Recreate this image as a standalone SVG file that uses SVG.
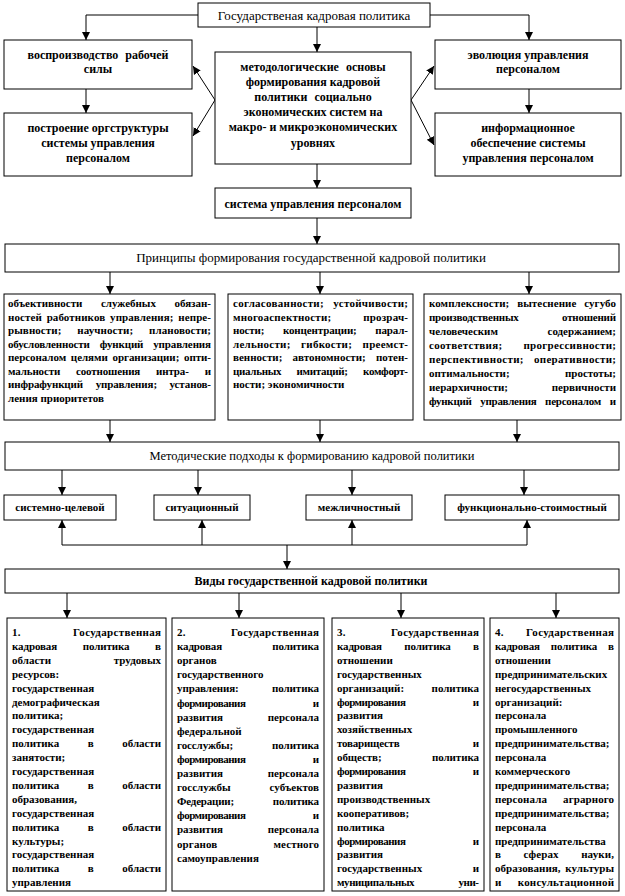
<svg xmlns="http://www.w3.org/2000/svg" width="625" height="896" viewBox="0 0 625 896">
<style>
rect{fill:#fff;stroke:#000;stroke-width:1}
text{font-family:"Liberation Serif","Times New Roman",serif;font-weight:bold;font-size:11px;fill:#000}
.c{text-anchor:middle;font-size:12px}
.s{text-anchor:middle;font-size:11px}
.r{text-anchor:middle;font-weight:normal;font-size:13px}
#conn path{fill:none;stroke:#000;stroke-width:1;marker-end:url(#a)}
#conn path.n{marker-end:none}
</style>
<defs>
<marker id="a" viewBox="0 0 8 10" refX="8" refY="5" markerWidth="8" markerHeight="10" markerUnits="userSpaceOnUse" orient="auto">
<path d="M0,1 L8,5 L0,9 Z" fill="#000"/>
</marker>
</defs>
<rect x="0" y="0" width="625" height="896" style="stroke:none"/>

<g id="conn">
<path d="M198,15 H86 V40"/>
<path d="M430,15 H529 V40"/>
<path d="M317,27 V52"/>
<path d="M86,89 V113"/>
<path d="M529,89 V113"/>
<path d="M215,100 L193,66"/>
<path d="M215,100 L193,136"/>
<path d="M411,100 L434,66"/>
<path d="M411,100 L434,145"/>
<path d="M317,164 V188"/>
<path d="M317,218 V244"/>
<path d="M110,272 V294"/>
<path d="M320,272 V294"/>
<path d="M529,272 V294"/>
<path d="M110,420 V442"/>
<path d="M320,420 V442"/>
<path d="M517,420 V442"/>
<path d="M62,470 V495"/>
<path d="M198,470 V495"/>
<path d="M352,470 V495"/>
<path d="M524,470 V495"/>
<path class="n" d="M62,545 H527"/>
<path d="M62,545 V520"/>
<path d="M202,545 V520"/>
<path d="M352,545 V520"/>
<path d="M527,545 V520"/>
<path d="M287,545 V569"/>
<path d="M67,593 V618"/>
<path d="M239,593 V618"/>
<path d="M401,593 V618"/>
<path d="M556,593 V618"/>
</g>

<g id="title"><rect x="198" y="3" width="232" height="24"/><text class="r" x="314" y="20">Государственая кадровая политика</text></g>

<g id="left1"><rect x="4" y="40" width="188" height="49"/>
<text class="c" x="98" y="59" style="word-spacing:4px">воспроизводство рабочей</text>
<text class="c" x="98" y="73">силы</text></g>

<g id="left2"><rect x="4" y="113" width="188" height="63"/>
<text class="c" x="98" y="132">построение оргструктуры</text>
<text class="c" x="98" y="147">системы управления</text>
<text class="c" x="98" y="162">персоналом</text></g>

<g id="center"><rect x="215" y="52" width="196" height="112"/>
<text class="c" x="313" y="71" style="word-spacing:4px">методологические основы</text>
<text class="c" x="313" y="86">формирования кадровой</text>
<text class="c" x="313" y="101" style="word-spacing:4px">политики социально</text>
<text class="c" x="313" y="116">экономических систем на</text>
<text class="c" x="313" y="131">макро- и микроэкономических</text>
<text class="c" x="313" y="147">уровнях</text></g>

<g id="right1"><rect x="435" y="40" width="186" height="49"/>
<text class="c" x="528" y="59">эволюция управления</text>
<text class="c" x="528" y="73">персоналом</text></g>

<g id="right2"><rect x="435" y="113" width="186" height="63"/>
<text class="c" x="528" y="132">информационное</text>
<text class="c" x="528" y="147">обеспечение системы</text>
<text class="c" x="528" y="162">управления персоналом</text></g>

<g id="system"><rect x="215" y="188" width="196" height="30"/>
<text class="c" x="313" y="208">система управления персоналом</text></g>

<g id="principles"><rect x="5" y="244" width="614" height="28"/>
<text class="r" x="311" y="262">Принципы формирования государственной кадровой политики</text></g>

<g id="prA"><rect x="4" y="294" width="211" height="126"/>
<text x="8" y="307" textLength="203" style="word-spacing:15.8px">объективности служебных обязан-</text>
<text x="8" y="320.5" textLength="203" style="word-spacing:2px">ностей работников управления; непре-</text>
<text x="8" y="334" textLength="203" style="word-spacing:13px">рывности; научности; плановости;</text>
<text x="8" y="347.5" textLength="203" style="word-spacing:7.3px">обусловленности функций управления</text>
<text x="8" y="361" textLength="203" style="word-spacing:2px">персоналом целями организации; опти-</text>
<text x="8" y="374.5" textLength="203" style="word-spacing:13.4px">мальности соотношения интра- и</text>
<text x="8" y="388" textLength="203" style="word-spacing:10px">инфрафункций управления; установ-</text>
<text x="8" y="401.5">ления приоритетов</text></g>

<g id="prB"><rect x="228" y="294" width="185" height="126"/>
<text x="233" y="307" textLength="175" style="word-spacing:6.4px">согласованности; устойчивости;</text>
<text x="233" y="320.5" textLength="175" style="word-spacing:29px">многоаспектности; прозрач-</text>
<text x="233" y="334" textLength="175" style="word-spacing:16px">ности; концентрации; парал-</text>
<text x="233" y="347.5" textLength="175" style="word-spacing:7.5px">лельности; гибкости; преемст-</text>
<text x="233" y="361" textLength="175" style="word-spacing:7.5px">венности; автономности; потен-</text>
<text x="233" y="374.5" textLength="175" style="word-spacing:13px">циальных имитаций; комфорт-</text>
<text x="233" y="388">ности; экономичности</text></g>

<g id="prC"><rect x="424" y="294" width="197" height="126"/>
<text x="429" y="307" textLength="187" style="word-spacing:5px">комплексности; вытеснение сугубо</text>
<text x="429" y="321" textLength="187" style="word-spacing:41px">производственных отношений</text>
<text x="429" y="335" textLength="187" style="word-spacing:47px">человеческим содержанием;</text>
<text x="429" y="349" textLength="187" style="word-spacing:18px">соответствия; прогрессивности;</text>
<text x="429" y="363" textLength="187" style="word-spacing:7px">перспективности; оперативности;</text>
<text x="429" y="377" textLength="187" style="word-spacing:52.7px">оптимальности; простоты;</text>
<text x="429" y="391" textLength="187" style="word-spacing:41px">иерархичности; первичности</text>
<text x="429" y="405" textLength="187" style="word-spacing:6.2px">функций управления персоналом и</text></g>

<g id="methods"><rect x="5" y="442" width="614" height="28"/>
<text class="r" x="312" y="460" style="font-size:12.5px">Методические подходы к формированию кадровой политики</text></g>

<g id="ap1"><rect x="4" y="495" width="112" height="25"/><text class="s" x="60" y="511">системно-целевой</text></g>
<g id="ap2"><rect x="154" y="495" width="96" height="25"/><text class="s" x="202" y="511">ситуационный</text></g>
<g id="ap3"><rect x="306" y="495" width="106" height="25"/><text class="s" x="359" y="511">межличностный</text></g>
<g id="ap4"><rect x="445" y="495" width="174" height="25"/><text class="s" x="532" y="511">функционально-стоимостный</text></g>

<g id="types"><rect x="5" y="569" width="614" height="24"/>
<text class="c" x="311" y="585">Виды государственной кадровой политики</text></g>

<g id="t1"><rect x="7" y="618" width="159" height="273"/>
<text x="12" y="636" textLength="149" style="word-spacing:49px">1. Государственная</text>
<text x="12" y="649.9" textLength="149" style="word-spacing:23px">кадровая политика в</text>
<text x="12" y="663.8" textLength="149" style="word-spacing:60px">области трудовых</text>
<text x="12" y="677.7">ресурсов:</text>
<text x="12" y="691.6">государственная</text>
<text x="12" y="705.5">демографическая</text>
<text x="12" y="719.4">политика;</text>
<text x="12" y="733.3">государственная</text>
<text x="12" y="747.2" textLength="149" style="word-spacing:26px">политика в области</text>
<text x="12" y="761.1">занятости;</text>
<text x="12" y="775">государственная</text>
<text x="12" y="788.9" textLength="149" style="word-spacing:26px">политика в области</text>
<text x="12" y="802.8">образования,</text>
<text x="12" y="816.7">государственная</text>
<text x="12" y="830.6" textLength="149" style="word-spacing:26px">политика в области</text>
<text x="12" y="844.5">культуры;</text>
<text x="12" y="858.4">государственная</text>
<text x="12" y="872.3" textLength="149" style="word-spacing:26px">политика в области</text>
<text x="12" y="886.2">управления</text></g>

<g id="t2"><rect x="172" y="618" width="152" height="273"/>
<text x="177" y="636" textLength="142" style="word-spacing:42px">2. Государственная</text>
<text x="177" y="650.1" textLength="142" style="word-spacing:47.7px">кадровая политика</text>
<text x="177" y="664.2">органов</text>
<text x="177" y="678.3">государственного</text>
<text x="177" y="692.4" textLength="142" style="word-spacing:30.6px">управления: политика</text>
<text x="177" y="706.5" textLength="142" style="word-spacing:65px">формирования и</text>
<text x="177" y="720.6" textLength="142" style="word-spacing:42px">развития персонала</text>
<text x="177" y="734.7">федеральной</text>
<text x="177" y="748.8" textLength="142" style="word-spacing:36.3px">госслужбы; политика</text>
<text x="177" y="762.9" textLength="142" style="word-spacing:65px">формирования и</text>
<text x="177" y="777" textLength="142" style="word-spacing:42px">развития персонала</text>
<text x="177" y="791.1" textLength="142" style="word-spacing:36.3px">госслужбы субъектов</text>
<text x="177" y="805.2" textLength="142" style="word-spacing:36.3px">Федерации; политика</text>
<text x="177" y="819.3" textLength="142" style="word-spacing:65px">формирования и</text>
<text x="177" y="833.4" textLength="142" style="word-spacing:42px">развития персонала</text>
<text x="177" y="847.5" textLength="142" style="word-spacing:53.4px">органов местного</text>
<text x="177" y="861.6">самоуправления</text></g>

<g id="t3"><rect x="332" y="618" width="152" height="273"/>
<text x="337" y="636" textLength="142" style="word-spacing:42px">3. Государственная</text>
<text x="337" y="649.9" textLength="142" style="word-spacing:19.7px">кадровая политика в</text>
<text x="337" y="663.8">отношении</text>
<text x="337" y="677.7">государственных</text>
<text x="337" y="691.6" textLength="142" style="word-spacing:24.8px">организаций: политика</text>
<text x="337" y="705.5" textLength="142" style="word-spacing:65px">формирования и</text>
<text x="337" y="719.4">развития</text>
<text x="337" y="733.3">хозяйственных</text>
<text x="337" y="747.2" textLength="142" style="word-spacing:70.6px">товариществ и</text>
<text x="337" y="761.1" textLength="142" style="word-spacing:47.7px">обществ; политика</text>
<text x="337" y="775" textLength="142" style="word-spacing:65px">формирования и</text>
<text x="337" y="788.9">развития</text>
<text x="337" y="802.8">производственных</text>
<text x="337" y="816.7">кооперативов;</text>
<text x="337" y="830.6">политика</text>
<text x="337" y="844.5" textLength="142" style="word-spacing:65px">формирования и</text>
<text x="337" y="858.4">развития</text>
<text x="337" y="872.3" textLength="142" style="word-spacing:47.7px">государственных и</text>
<text x="337" y="886.2" textLength="142" style="word-spacing:42px">муниципальных уни-</text></g>

<g id="t4"><rect x="490" y="618" width="129" height="273"/>
<text x="495" y="636" textLength="119" style="word-spacing:19px">4. Государственная</text>
<text x="495" y="649.9" textLength="119" style="word-spacing:8.2px">кадровая политика в</text>
<text x="495" y="663.8">отношении</text>
<text x="495" y="677.7">предпринимательских</text>
<text x="495" y="691.6">негосударственных</text>
<text x="495" y="705.5">организаций:</text>
<text x="495" y="719.4">персонала</text>
<text x="495" y="733.3">промышленного</text>
<text x="495" y="747.2">предпринимательства;</text>
<text x="495" y="761.1">персонала</text>
<text x="495" y="775">коммерческого</text>
<text x="495" y="788.9">предпринимательства;</text>
<text x="495" y="802.8" textLength="119" style="word-spacing:13.3px">персонала аграрного</text>
<text x="495" y="816.7">предпринимательства;</text>
<text x="495" y="830.6">персонала</text>
<text x="495" y="844.5">предпринимательства</text>
<text x="495" y="858.4" textLength="119" style="word-spacing:19.6px">в сферах науки,</text>
<text x="495" y="872.3" textLength="119" style="word-spacing:1.8px">образования, культуры</text>
<text x="495" y="886.2" textLength="119" style="word-spacing:13.3px">и консультационной</text></g>
</svg>
